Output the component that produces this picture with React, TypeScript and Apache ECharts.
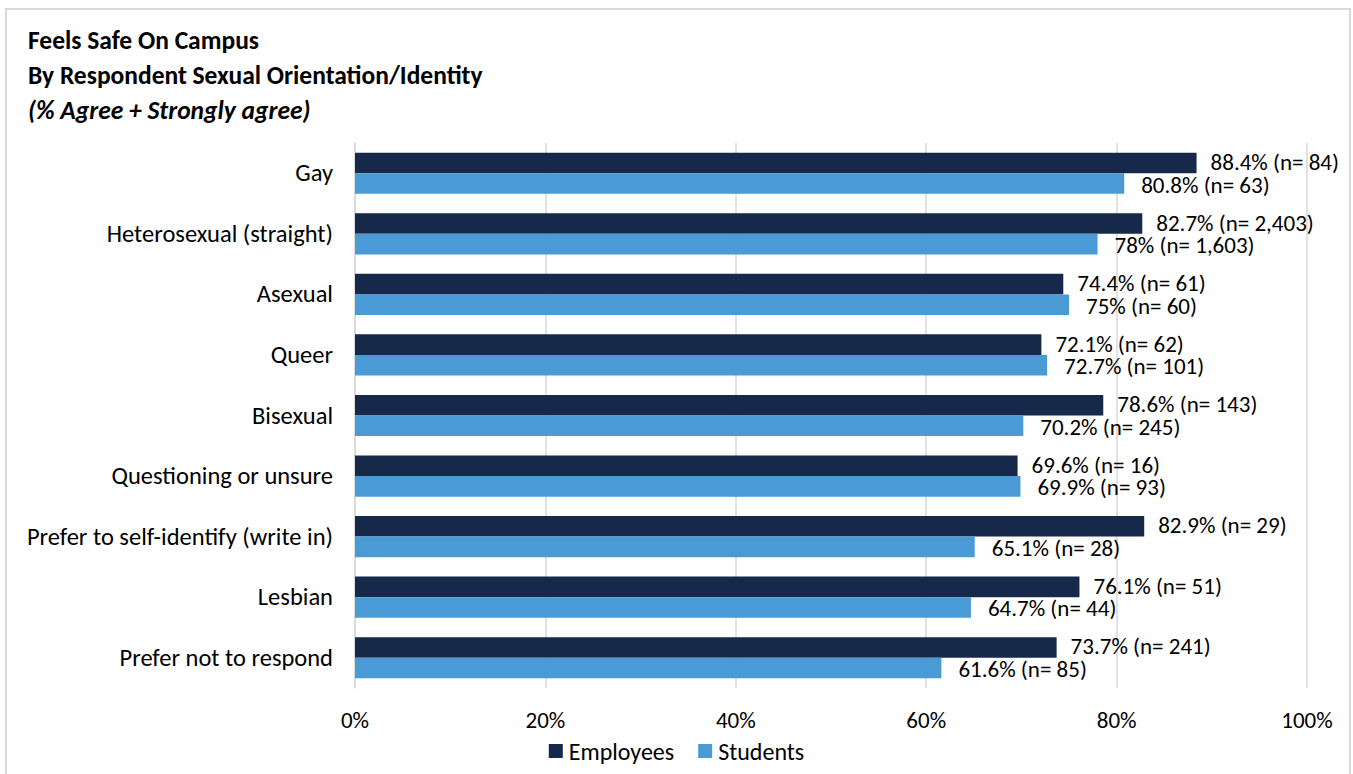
import React, { useEffect, useRef } from "react";
import * as echarts from "echarts";

const categories = [
  "Gay",
  "Heterosexual (straight)",
  "Asexual",
  "Queer",
  "Bisexual",
  "Questioning or unsure",
  "Prefer to self-identify (write in)",
  "Lesbian",
  "Prefer not to respond",
];
const employeesPct = [88.4, 82.7, 74.4, 72.1, 78.6, 69.6, 82.9, 76.1, 73.7];
const employeesN = ["84", "2,403", "61", "62", "143", "16", "29", "51", "241"];
const studentsPct = [80.8, 78, 75, 72.7, 70.2, 69.9, 65.1, 64.7, 61.6];
const studentsN = ["63", "1,603", "60", "101", "245", "93", "28", "44", "85"];
const xTicks = [0, 20, 40, 60, 80, 100];

const FONT = "Carlito, Calibri, Lato, 'Open Sans', sans-serif";

export default function App() {
  const ref = useRef<HTMLDivElement>(null);
  useEffect(() => {
    if (!ref.current) return;
    const chart = echarts.init(ref.current, undefined, { renderer: "svg" });
    const labelFor = (n: string[]) => (p: any) => `${p.value}% (n= ${n[p.dataIndex]})`;
    const titleStyle = { fontFamily: FONT, fontSize: 25.5, fontWeight: "bold", color: "#000" };
    chart.setOption({
      animation: false,
      backgroundColor: "#fff",
      textStyle: { fontFamily: FONT },
      title: [
        { text: "Feels Safe On Campus", left: 23, top: 22, textStyle: titleStyle },
        { text: "By Respondent Sexual Orientation/Identity", left: 23, top: 57, textStyle: titleStyle },
        { text: "(% Agree + Strongly agree)", left: 23, top: 92, textStyle: { ...titleStyle, fontStyle: "italic" } },
      ],
      graphic: [
        { type: "rect", shape: { x: 6, y: 9, width: 1344, height: 820 }, style: { fill: "none", stroke: "#D9D9D9", lineWidth: 2 }, silent: true },
      ],
      legend: {
        bottom: 6,
        left: "center",
        itemWidth: 14,
        itemHeight: 14,
        itemGap: 24,
        icon: "rect",
        textStyle: { fontFamily: FONT, fontSize: 24, color: "#000", padding: [0, 0, 0, 1] },
        data: ["Employees", "Students"],
      },
      grid: { left: 355, right: 46, top: 143, bottom: 86, containLabel: false },
      xAxis: {
        type: "value",
        min: xTicks[0],
        max: xTicks[xTicks.length - 1],
        interval: 20,
        axisLabel: { formatter: "{value}%", fontFamily: FONT, fontSize: 23, color: "#000", margin: 20 },
        splitLine: { show: true, lineStyle: { color: "#D9D9D9", width: 1.5 } },
        axisLine: { show: false },
        axisTick: { show: false },
      },
      yAxis: {
        type: "category",
        inverse: true,
        data: categories,
        axisLabel: { fontFamily: FONT, fontSize: 24.5, color: "#000", margin: 22 },
        axisLine: { show: true, lineStyle: { color: "#D9D9D9", width: 1.5 } },
        axisTick: { show: false },
      },
      series: [
        {
          name: "Employees",
          type: "bar",
          data: employeesPct,
          itemStyle: { color: "#16294B" },
          barGap: "0%",
          barCategoryGap: "32%",
          label: { show: true, position: "right", distance: 14, offset: [0, -1], formatter: labelFor(employeesN), fontFamily: FONT, fontSize: 23, lineHeight: 19, color: "#000" },
        },
        {
          name: "Students",
          type: "bar",
          data: studentsPct,
          itemStyle: { color: "#4A9BD5" },
          barGap: "0%",
          barCategoryGap: "32%",
          label: { show: true, position: "right", distance: 17, offset: [0, 1], formatter: labelFor(studentsN), fontFamily: FONT, fontSize: 23, lineHeight: 19, color: "#000" },
        },
      ],
    });
    return () => chart.dispose();
  }, []);
  return <div ref={ref} style={{ position: "fixed", left: 0, top: 0, width: 1353, height: 774 }} />;
}
